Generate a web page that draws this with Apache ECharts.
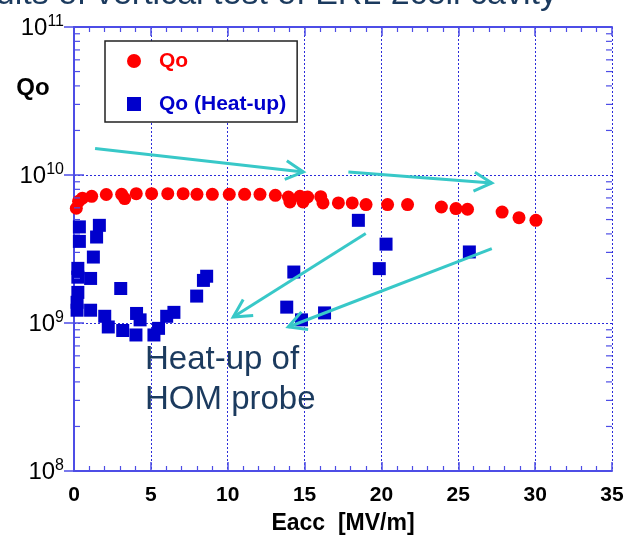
<!DOCTYPE html>
<html><head><meta charset="utf-8">
<script src="https://cdn.jsdelivr.net/npm/echarts@6/dist/echarts.min.js"></script>
<style>html,body{margin:0;padding:0;background:#fff}#c{width:626px;height:537px}</style>
</head><body><div id="c"></div>
<script>
// ---- data ----
const qoE = [0.15, 0.3, 0.55, 1.15, 2.1, 3.1, 3.3, 4.05, 5.05, 6.1, 7.1, 8.0, 9.0, 10.1, 11.1, 12.1, 13.1, 13.95, 14.05, 14.7, 14.9, 15.2, 16.05, 16.2, 17.2, 18.1, 19.0, 20.4, 21.7, 23.9, 24.85, 25.6, 27.85, 28.95, 30.05];
const qoQ = [5.96e9, 6.64e9, 6.97e9, 7.18e9, 7.38e9, 7.4e9, 6.93e9, 7.48e9, 7.48e9, 7.48e9, 7.48e9, 7.4e9, 7.4e9, 7.4e9, 7.4e9, 7.4e9, 7.29e9, 7.1e9, 6.58e9, 7.18e9, 6.58e9, 7.1e9, 7.14e9, 6.48e9, 6.48e9, 6.48e9, 6.31e9, 6.31e9, 6.31e9, 6.08e9, 5.93e9, 5.87e9, 5.62e9, 5.15e9, 4.94e9];
const heatE = [0.35, 0.35, 1.65, 1.47, 1.26, 0.25, 0.25, 1.08, 0.25, 0.2, 0.2, 1.08, 2.0, 2.23, 3.04, 3.17, 4.03, 4.07, 4.3, 5.2, 5.5, 6.03, 6.5, 7.98, 8.42, 8.63, 14.3, 13.84, 14.8, 16.3, 18.5, 20.3, 19.86, 25.72];
const heatQ = [4.46e9, 3.56e9, 4.57e9, 3.81e9, 2.79e9, 2.34e9, 2.04e9, 2.0e9, 1.61e9, 1.38e9, 1.22e9, 1.22e9, 1.11e9, 0.94e9, 1.71e9, 0.89e9, 0.83e9, 1.16e9, 1.05e9, 0.83e9, 0.92e9, 1.11e9, 1.18e9, 1.52e9, 1.94e9, 2.07e9, 2.21e9, 1.28e9, 1.05e9, 1.17e9, 4.94e9, 3.41e9, 2.33e9, 3.02e9];
const xTickValues = [0, 5, 10, 15, 20, 25, 30, 35];
const yTickExponents = [8, 9, 10, 11];
const seriesNames = ['Qo', 'Qo (Heat-up)'];
// annotation arrows in data units: [fromE, fromQ, toE, toQ]
const arrows = [
  [1.37, 1.51e10, 14.92, 1.048e10],
  [17.85, 1.048e10, 27.18, 8.83e9],
  [18.98, 4.02e9, 10.36, 1.099e9],
  [27.18, 3.18e9, 13.94, 9.4e8]
];
const titleText = 'Results of vertical test of ERL 2cell cavity';
const noteText = 'Heat-up of\nHOM probe';

// ---- styling ----
const FONT = '"Liberation Sans", Arial, sans-serif';
const AXIS = '#4d4de6';
const GRID = '#2b2bd9';
const ARROW = '#38c8c8';
const NAVY = '#1b3a5e';

const xMin = xTickValues[0], xMax = xTickValues[xTickValues.length - 1];
const yMin = Math.pow(10, yTickExponents[0]), yMax = Math.pow(10, yTickExponents[yTickExponents.length - 1]);
const yMinor = [];
for (let e = yTickExponents[0]; e < yTickExponents[yTickExponents.length - 1]; e++) {
  for (let m = 2; m <= 9; m++) yMinor.push([xMin, m * Math.pow(10, e)]);
}

const chart = echarts.init(document.getElementById('c'), null, {renderer: 'canvas'});

const baseX = {
  type: 'value', min: xMin, max: xMax, interval: 5,
  axisLine: {show: true, lineStyle: {color: AXIS, width: 2}},
  axisTick: {show: true, inside: true, length: 9, lineStyle: {color: AXIS, width: 1.5}},
  minorTick: {show: true, splitNumber: 5, length: 5, lineStyle: {color: AXIS, width: 1.2}},
};
const baseY = {
  type: 'log', logBase: 10, min: yMin, max: yMax, interval: 1,
  axisLine: {show: true, lineStyle: {color: AXIS, width: 2}},
  axisTick: {show: true, inside: true, length: 10, lineStyle: {color: AXIS, width: 1.5}},
};

chart.setOption({
  animation: false,
  backgroundColor: '#fff',
  grid: {left: 74, top: 27, right: 14, bottom: 66, containLabel: false, outerBoundsMode: 'none'},
  xAxis: [
    Object.assign({}, baseX, {
      position: 'bottom',
      name: 'Eacc  [MV/m]', nameLocation: 'middle', nameGap: 41,
      nameTextStyle: {fontFamily: FONT, fontSize: 23, fontWeight: 'bold', color: '#000'},
      axisLabel: {show: true, margin: 14, fontFamily: FONT, fontSize: 21, fontWeight: 'bold', color: '#000'},
      splitLine: {show: true, lineStyle: {color: GRID, type: [2, 2], width: 1}}
    }),
    Object.assign({}, baseX, {position: 'top', axisLabel: {show: false}, splitLine: {show: false}})
  ],
  yAxis: [
    Object.assign({}, baseY, {
      position: 'left',
      axisLabel: {
        show: true, margin: 10,
        formatter: v => '{b|10}{s|' + Math.round(Math.log10(v)) + '}',
        rich: {
          b: {fontFamily: FONT, fontSize: 24, color: '#000', lineHeight: 26, verticalAlign: 'bottom'},
          s: {fontFamily: FONT, fontSize: 16, color: '#000', lineHeight: 16, verticalAlign: 'top', padding: [0, 0, 12, 0]}
        }
      },
      splitLine: {show: true, lineStyle: {color: GRID, type: [2, 2], width: 1}}
    }),
    Object.assign({}, baseY, {position: 'right', axisLabel: {show: false}, splitLine: {show: false}})
  ],
  legend: {
    orient: 'vertical', left: 105, top: 41,
    padding: [9, 11, 7, 22], itemGap: 21, itemWidth: 14, itemHeight: 14,
    backgroundColor: '#fff', borderColor: '#222', borderWidth: 1.5,
    data: [
      {name: seriesNames[0], icon: 'circle', textStyle: {color: '#ff0000'}},
      {name: seriesNames[1], icon: 'rect', textStyle: {color: '#0000cc'}}
    ],
    textStyle: {fontFamily: FONT, fontSize: 21, fontWeight: 'bold', lineHeight: 22, padding: [0, 0, 0, 13]}
  },
  graphic: [
    {type: 'text', x: 557, y: -5, z: 50,
     style: {text: titleText, align: 'right', verticalAlign: 'middle', fontFamily: FONT, fontSize: 34, fill: NAVY}},
    {type: 'text', x: 33, y: 88, z: 50,
     style: {text: 'Qo', align: 'center', verticalAlign: 'middle', fontFamily: FONT, fontSize: 24, fontWeight: 'bold', fill: '#000'}},
    {type: 'text', x: 145, y: 340, z: 50,
     style: {text: noteText, align: 'left', verticalAlign: 'top', fontFamily: FONT, fontSize: 33, lineHeight: 40, fill: NAVY}}
  ],
  series: [
    {
      name: seriesNames[0], type: 'scatter', symbol: 'circle', symbolSize: 13,
      itemStyle: {color: '#ff0000', opacity: 1},
      data: qoE.map((e, i) => [e, qoQ[i]]), z: 3
    },
    {
      name: seriesNames[1], type: 'scatter', symbol: 'rect', symbolSize: 13,
      itemStyle: {color: '#0000cc', opacity: 1},
      data: heatE.map((e, i) => [e, heatQ[i]]), z: 4
    },
    {
      name: 'yMinorTicks', type: 'custom', coordinateSystem: 'cartesian2d', silent: true, z: 5,
      data: yMinor,
      renderItem: (params, api) => {
        const v = api.value(1);
        const l = api.coord([xMin, v]);
        const r = api.coord([xMax, v]);
        const st = {stroke: AXIS, lineWidth: 1.2};
        return {type: 'group', children: [
          {type: 'line', shape: {x1: l[0], y1: l[1], x2: l[0] + 6, y2: l[1]}, style: st},
          {type: 'line', shape: {x1: r[0] - 6, y1: r[1], x2: r[0], y2: r[1]}, style: st}
        ]};
      }
    },
    {
      name: 'arrows', type: 'custom', coordinateSystem: 'cartesian2d', silent: true, z: 6,
      data: arrows,
      encode: {x: [0, 2], y: [1, 3]},
      renderItem: (params, api) => {
        const p1 = api.coord([api.value(0), api.value(1)]);
        const p2 = api.coord([api.value(2), api.value(3)]);
        const ang = Math.atan2(p1[1] - p2[1], p1[0] - p2[0]);
        const L = 20, a = 28 * Math.PI / 180;
        const b1 = [p2[0] + L * Math.cos(ang + a), p2[1] + L * Math.sin(ang + a)];
        const b2 = [p2[0] + L * Math.cos(ang - a), p2[1] + L * Math.sin(ang - a)];
        const st = {stroke: ARROW, lineWidth: 3, fill: null, lineCap: 'butt', lineJoin: 'miter'};
        return {type: 'group', children: [
          {type: 'line', shape: {x1: p1[0], y1: p1[1], x2: p2[0], y2: p2[1]}, style: st},
          {type: 'polyline', shape: {points: [b1, p2, b2]}, style: st}
        ]};
      }
    }
  ]
});
</script>
</body></html>
